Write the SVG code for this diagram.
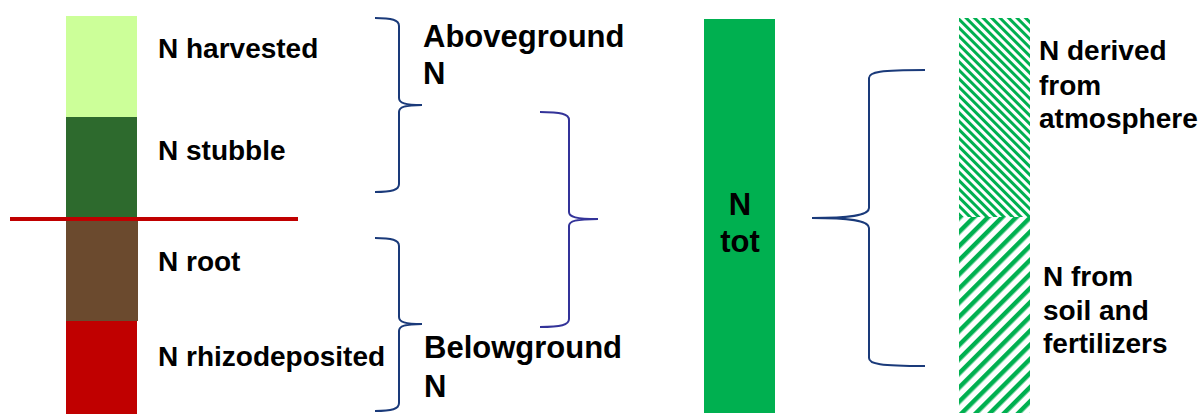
<svg xmlns="http://www.w3.org/2000/svg" width="1200" height="415" viewBox="0 0 1200 415">
<style>
text{font-family:"Liberation Sans",Arial,sans-serif;font-weight:bold;fill:#000}
.t28{font-size:28px}
.t31{font-size:31px}
.t27{font-size:28px}
.brace{fill:none;stroke:#1a3a7a;stroke-width:2}
.brace2{fill:none;stroke:#333399;stroke-width:2}
</style>
<defs>
<pattern id="hatchFine" patternUnits="userSpaceOnUse" width="6" height="6" patternTransform="rotate(45)">
<rect x="0" y="0" width="6" height="3" fill="#00b050"/>
</pattern>
<pattern id="hatchWide" patternUnits="userSpaceOnUse" width="10" height="10" patternTransform="rotate(-45)">
<rect x="0" y="0" width="10" height="4.5" fill="#00b050"/>
</pattern>
</defs>
<rect width="1200" height="415" fill="#fff"/>

<g id="n-harvested">
<rect x="66" y="16" width="71" height="101" fill="#ccff99"/>
<text class="t28" x="158" y="58">N harvested</text>
</g>
<g id="n-stubble">
<rect x="66" y="117" width="71" height="101" fill="#2d6a2d"/>
<text class="t28" x="158" y="160">N stubble</text>
</g>
<g id="n-root">
<rect x="66" y="218" width="72" height="103" fill="#6b4a2e"/>
<text class="t28" x="158" y="271">N root</text>
</g>
<g id="n-rhizo">
<rect x="66" y="321" width="71" height="93" fill="#c00000"/>
<text class="t28" x="158" y="366">N rhizodeposited</text>
</g>
<g id="ground-line">
<line x1="10" y1="219" x2="298" y2="219" stroke="#c00000" stroke-width="4"/>
</g>
<g id="aboveground">
<text class="t31" x="423" y="47">Aboveground<tspan x="423" y="84">N</tspan></text>
</g>
<g id="belowground">
<text class="t31" x="424" y="358">Belowground<tspan x="424" y="397">N</tspan></text>
</g>
<g id="n-tot">
<rect x="704" y="19" width="71" height="394" fill="#00b050"/>
<text class="t31" x="740" y="215" text-anchor="middle">N<tspan x="740" y="252">tot</tspan></text>
</g>
<g id="n-atmosphere">
<rect x="959" y="18" width="71" height="199" fill="url(#hatchFine)"/>
<text class="t27" x="1039" y="60">N derived<tspan x="1039" y="95">from</tspan><tspan x="1039" y="128">atmosphere</tspan></text>
</g>
<g id="n-soil">
<rect x="959" y="217" width="71" height="196" fill="url(#hatchWide)"/>
<text class="t27" x="1043" y="286">N from<tspan x="1043" y="320">soil and</tspan><tspan x="1043" y="353">fertilizers</tspan></text>
</g>

<g id="connectors">
<path class="brace" d="M375,18 C392,18 399,20 399,26 L399,98 C399,103 405,105 422,105 C405,105 399,107 399,112 L399,184 C399,190 392,192 375,192"/>
<path class="brace" d="M375,238 C392,238 399,240 399,246 L399,317 C399,322 405,324 422,324 C405,324 399,326 399,331 L399,403 C399,409 392,411 375,411"/>
<path class="brace2" d="M540,112 C561,112 569,114 569,120 L569,212 C569,217 576,219 598,219 C576,219 569,221 569,226 L569,319 C569,325 561,327 540,327"/>
<path class="brace" d="M925,70 C880,70 869,72 869,78 L869,208 C869,214 858,218 812,218 C858,218 869,222 869,228 L869,358 C869,364 880,366 925,366"/>
</g>
</svg>
